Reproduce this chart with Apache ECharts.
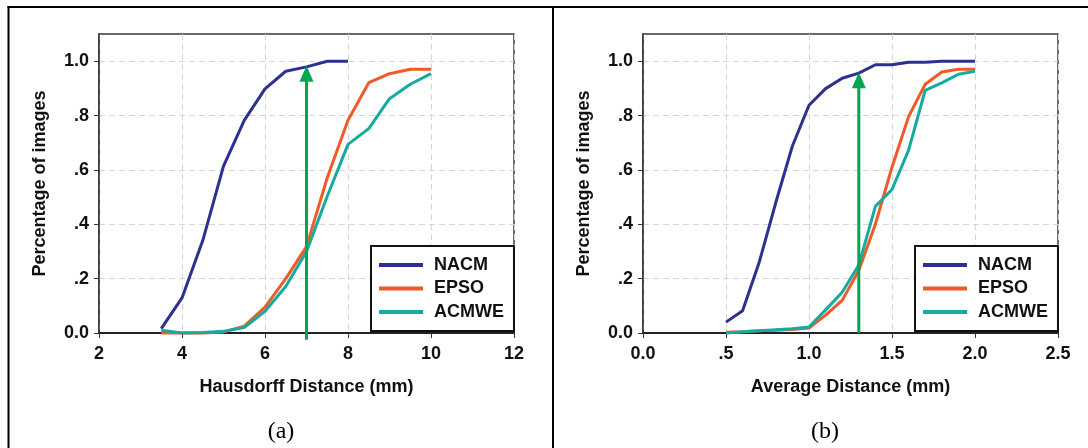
<!DOCTYPE html>
<html>
<head>
<meta charset="utf-8">
<script src="https://cdn.jsdelivr.net/npm/echarts@6/dist/echarts.min.js"></script>
<style>
html,body{margin:0;padding:0;background:#fff;}
#chart{width:1088px;height:448px;}
</style>
</head>
<body>
<div id="chart"></div>
<script>
// ---- data ----
const seriesNames = ['NACM', 'EPSO', 'ACMWE'];
// Panel (a): Hausdorff distance
const hdX = [3.5, 4, 4.5, 5, 5.5, 6, 6.5, 7, 7.5, 8, 8.5, 9, 9.5, 10];
const nacmA = [0.016, 0.129, 0.34, 0.614, 0.782, 0.898, 0.963, 0.979, 1.0, 1.0];
const epsoA = [0.0, 0.0, 0.0, 0.004, 0.025, 0.095, 0.2, 0.318, 0.571, 0.783, 0.921, 0.954, 0.97, 0.97];
const acmweA = [0.01, 0.0, 0.002, 0.006, 0.02, 0.08, 0.171, 0.30, 0.503, 0.694, 0.752, 0.862, 0.915, 0.954];
// Panel (b): Average distance
const adX = [0.5, 0.6, 0.7, 0.8, 0.9, 1.0, 1.1, 1.2, 1.3, 1.4, 1.5, 1.6, 1.7, 1.8, 1.9, 2.0];
const nacmB = [0.04, 0.082, 0.26, 0.48, 0.688, 0.838, 0.899, 0.937, 0.956, 0.987, 0.987, 0.996, 0.996, 1.0, 1.0, 1.0];
const epsoB = [0.003, 0.005, 0.008, 0.01, 0.013, 0.018, 0.066, 0.12, 0.23, 0.40, 0.61, 0.796, 0.915, 0.96, 0.97, 0.97];
const acmweB = [0.0, 0.005, 0.008, 0.012, 0.016, 0.022, 0.085, 0.15, 0.25, 0.466, 0.528, 0.673, 0.893, 0.92, 0.952, 0.963];
// arrows [x, shaft start, arrow-head centre]
const arrowA = [7, -0.025, 0.954];
const arrowB = [1.3, 0, 0.93];
// tick labels
const yTickValues = [0, 0.2, 0.4, 0.6, 0.8, 1.0];
const yTickLabels = ['0.0', '.2', '.4', '.6', '.8', '1.0'];
const xTickValuesA = [2, 4, 6, 8, 10, 12];
const xTickLabelsA = ['2', '4', '6', '8', '10', '12'];
const xTickValuesB = [0, 0.5, 1.0, 1.5, 2.0, 2.5];
const xTickLabelsB = ['0.0', '.5', '1.0', '1.5', '2.0', '2.5'];
const axisNames = ['Hausdorff Distance (mm)', 'Average Distance (mm)'];
const yName = 'Percentage of images';
const captions = ['(a)', '(b)'];

// ---- styling ----
const colors = {NACM: '#2c3191', EPSO: '#f05a28', ACMWE: '#15ab9e'};
const arrowColor = '#00a650';
const FONT = 'Liberation Sans, Arial, sans-serif';
const txt = {fontFamily: FONT, fontWeight: 'bold', fontSize: 18, color: '#111'};

function pairs(xs, ys) { return ys.map((v, i) => [xs[i], v]); }
function labelFor(values, labels) {
  return function (v) {
    for (let i = 0; i < values.length; i++) if (Math.abs(values[i] - v) < 1e-9) return labels[i];
    return '';
  };
}

function xAxisDef(idx, min, max, interval, vals, labels) {
  return {
    type: 'value', gridIndex: idx, min: min, max: max, interval: interval,
    name: axisNames[idx], nameLocation: 'middle', nameGap: 45,
    nameTextStyle: Object.assign({}, txt),
    axisLine: {show: true, onZero: false, lineStyle: {color: '#222', width: 2}},
    axisTick: {show: true, length: 5, inside: false, lineStyle: {color: '#333', width: 1}},
    axisLabel: Object.assign({margin: 12, formatter: labelFor(vals, labels)}, txt),
    splitLine: {show: true, lineStyle: {color: '#d6d6d6', width: 1, type: [6, 4]}}
  };
}
function yAxisDef(idx) {
  return {
    type: 'value', gridIndex: idx, min: 0, max: 1.1, interval: 0.2,
    name: yName, nameLocation: 'middle', nameGap: 50,
    nameTextStyle: Object.assign({}, txt),
    axisLine: {show: true, lineStyle: {color: '#333', width: 1.5}},
    axisTick: {show: true, length: 5, inside: false, customValues: yTickValues, lineStyle: {color: '#333', width: 1}},
    axisLabel: Object.assign({margin: 10, customValues: yTickValues, formatter: labelFor(yTickValues, yTickLabels)}, txt),
    splitLine: {show: true, lineStyle: {color: '#d6d6d6', width: 1, type: [6, 4]}}
  };
}
function lineSeries(name, idx, data) {
  return {
    name: name, type: 'line', xAxisIndex: idx, yAxisIndex: idx,
    data: data, symbol: 'none', smooth: false, clip: false, z: 3,
    lineStyle: {color: colors[name], width: 3}, itemStyle: {color: colors[name]}
  };
}
function arrowSeries(idx, a) {
  return {
    name: 'arrow' + idx, type: 'line', xAxisIndex: idx, yAxisIndex: idx,
    clip: false, z: 4, silent: true,
    showAllSymbol: true,
    lineStyle: {color: arrowColor, width: 3},
    itemStyle: {color: arrowColor, borderWidth: 0},
    data: [
      {value: [a[0], a[1]], symbol: 'none'},
      {value: [a[0], a[2]], symbol: 'triangle', symbolSize: [14, 16]}
    ]
  };
}
function legendDef(left) {
  return {
    data: seriesNames, orient: 'vertical', left: left, top: 246,
    itemWidth: 44, itemHeight: 4, itemGap: 5.5,
    icon: 'path://M0,0 L44,0 L44,4 L0,4 Z',
    padding: [10, 10, 10, 8],
    borderColor: '#111', borderWidth: 2, backgroundColor: '#fff',
    textStyle: Object.assign({}, txt, {padding: [0, 0, 0, 6]}),
    selectedMode: false
  };
}

const chart = echarts.init(document.getElementById('chart'), null, {renderer: 'canvas'});
chart.setOption({
  animation: false,
  backgroundColor: '#fff',
  grid: [
    {left: 99, top: 34, width: 415, height: 299, show: true, borderColor: '#3a3a3a', borderWidth: 1.5, backgroundColor: 'transparent'},
    {left: 643, top: 34, width: 415, height: 299, show: true, borderColor: '#3a3a3a', borderWidth: 1.5, backgroundColor: 'transparent'}
  ],
  xAxis: [
    xAxisDef(0, 2, 12, 2, xTickValuesA, xTickLabelsA),
    xAxisDef(1, 0, 2.5, 0.5, xTickValuesB, xTickLabelsB)
  ],
  yAxis: [yAxisDef(0), yAxisDef(1)],
  legend: [legendDef(371), legendDef(915)],
  series: [
    lineSeries('NACM', 0, pairs(hdX, nacmA)),
    lineSeries('EPSO', 0, pairs(hdX, epsoA)),
    lineSeries('ACMWE', 0, pairs(hdX, acmweA)),
    arrowSeries(0, arrowA),
    lineSeries('NACM', 1, pairs(adX, nacmB)),
    lineSeries('EPSO', 1, pairs(adX, epsoB)),
    lineSeries('ACMWE', 1, pairs(adX, acmweB)),
    arrowSeries(1, arrowB)
  ],
  graphic: [
    {type: 'line', shape: {x1: 7.5, y1: 7, x2: 1088, y2: 7}, style: {stroke: '#000', lineWidth: 2}},
    {type: 'line', shape: {x1: 8.5, y1: 6, x2: 8.5, y2: 448}, style: {stroke: '#000', lineWidth: 2}},
    {type: 'line', shape: {x1: 553, y1: 6, x2: 553, y2: 448}, style: {stroke: '#000', lineWidth: 2}},
    {type: 'text', x: 281, y: 432, style: {text: captions[0], fontSize: 24, fontFamily: 'Liberation Serif, Times New Roman, serif', fill: '#000', align: 'center', verticalAlign: 'middle'}},
    {type: 'text', x: 825, y: 432, style: {text: captions[1], fontSize: 24, fontFamily: 'Liberation Serif, Times New Roman, serif', fill: '#000', align: 'center', verticalAlign: 'middle'}}
  ]
});
</script>
</body>
</html>
